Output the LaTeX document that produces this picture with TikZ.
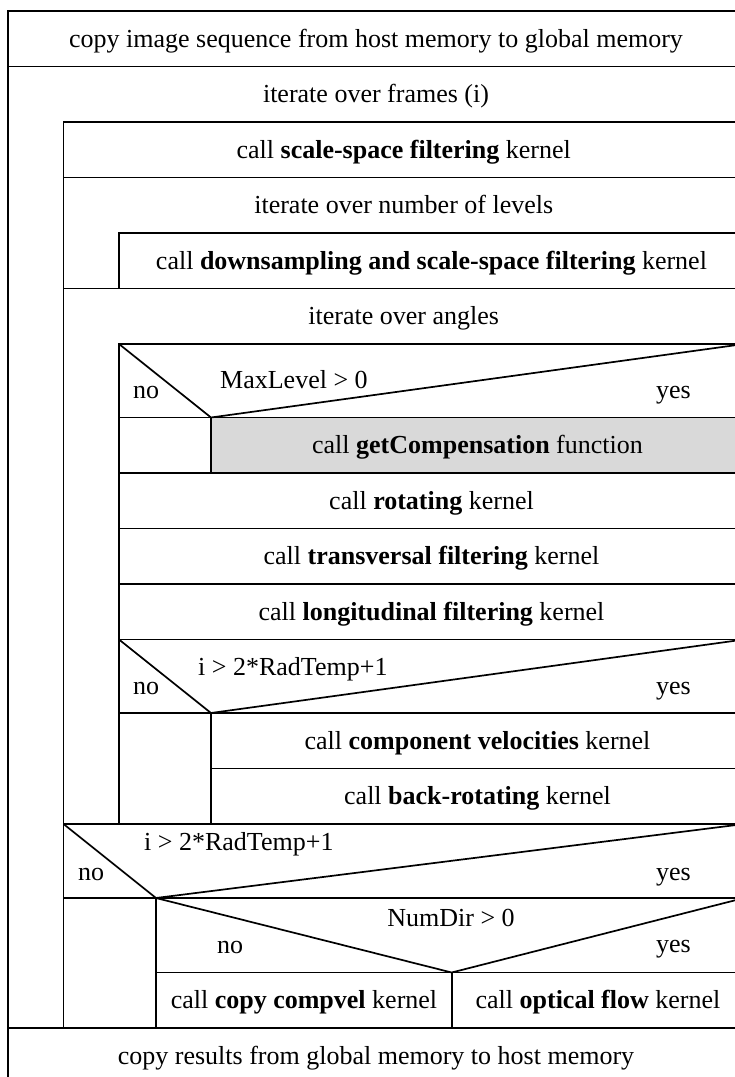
\documentclass[tikz,border=0pt]{standalone}
\usepackage{fontspec}
\setmainfont{Liberation Serif}
\definecolor{cellgrey}{RGB}{217,217,217}
\begin{document}
\begin{tikzpicture}[x=1pt,y=-1pt,
  frame/.style={line width=1.7pt, line join=miter},
  lbl/.style={anchor=base, inner sep=0pt, font=\fontsize{26}{30}\selectfont},
  leftlbl/.style={lbl, anchor=base west},
  yeslbl/.style={lbl, anchor=base east}]
\useasboundingbox (0,0) rectangle (735,1077);
\clip (0,0) rectangle (735,1077);

% highlighted cell
\fill[cellgrey] (211,417.5) rectangle (744,473);

% outer frame and sequence rows
\draw[frame] (8,1090) -- (8,11) -- (744,11) -- (744,1090);
\draw[frame] (8,66.5) -- (744,66.5);
\draw[frame] (8,1028) -- (744,1028);

% loop over frames
\draw[frame] (63.5,1028) -- (63.5,122) -- (744,122);
\draw[frame] (63.5,177.5) -- (744,177.5);

% loop over levels
\draw[frame] (119,288.5) -- (119,233) -- (744,233);
\draw[frame] (63.5,288.5) -- (744,288.5);

% loop over angles
\draw[frame] (119,824) -- (119,344) -- (744,344);
\coordinate (v1) at (211,417.5);
\draw[frame] (119,344) -- (v1) -- (744,344);
\draw[frame] (119,417.5) -- (744,417.5);
\draw[frame] (v1) -- (211,473);
\foreach \yy in {473,528.5,584,639.5} \draw[frame] (119,\yy) -- (744,\yy);
\coordinate (v2) at (211,713);
\draw[frame] (119,639.5) -- (v2) -- (744,639.5);
\draw[frame] (119,713) -- (744,713);
\draw[frame] (v2) -- (211,824);
\draw[frame] (211,768.5) -- (744,768.5);

% final condition
\draw[frame] (63.5,824) -- (744,824);
\coordinate (v3) at (156,898);
\draw[frame] (63.5,824) -- (v3) -- (744,824);
\draw[frame] (63.5,898) -- (744,898);
\draw[frame] (v3) -- (156,1028);
\coordinate (v4) at (451.7,972.5);
\draw[frame] (v3) -- (v4) -- (744,898);
\draw[frame] (156,972.5) -- (744,972.5);
\draw[frame] (v4) -- (451.7,1028);

% texts
\node[lbl] (t1) at (376,47.3) {copy image sequence from host memory to global memory};
\node[lbl] (t2) at (376,102.8) {iterate over frames (i)};
\node[lbl] (t3) at (403.75,158.3) {call \textbf{scale-space filtering} kernel};
\node[lbl] (t4) at (403.75,213.8) {iterate over number of levels};
\node[lbl] (t5) at (431.5,269.3) {call \textbf{downsampling and scale-space filtering} kernel};
\node[lbl] (t6) at (403.75,324.8) {iterate over angles};

\node[leftlbl] (c1) at (220,388) {MaxLevel > 0};
\node[leftlbl] (n1) at (133,398) {no};
\node[yeslbl] (y1) at (691,398) {yes};
\node[lbl] (t7) at (477.5,453.8) {call \textbf{getCompensation} function};
\node[lbl] (t8) at (431.5,509.3) {call \textbf{rotating} kernel};
\node[lbl] (t9) at (431.5,564.8) {call \textbf{transversal filtering} kernel};
\node[lbl] (t10) at (431.5,620.3) {call \textbf{longitudinal filtering} kernel};

\node[leftlbl] (c2) at (198,675) {i > 2*RadTemp+1};
\node[leftlbl] (n2) at (133,694) {no};
\node[yeslbl] (y2) at (691,694) {yes};
\node[lbl] (t11) at (477.5,749.3) {call \textbf{component velocities} kernel};
\node[lbl] (t12) at (477.5,804.8) {call \textbf{back-rotating} kernel};

\node[leftlbl] (c3) at (144,850) {i > 2*RadTemp+1};
\node[leftlbl] (n3) at (78,880) {no};
\node[yeslbl] (y3) at (691,880) {yes};

\node[lbl] (c4) at (451,926) {NumDir > 0};
\node[leftlbl] (n4) at (217,953) {no};
\node[yeslbl] (y4) at (691,952) {yes};
\node[lbl] (t13) at (304,1008.8) {call \textbf{copy compvel} kernel};
\node[lbl] (t14) at (598,1008.8) {call \textbf{optical flow} kernel};

\node[lbl] (t15) at (376,1064.3) {copy results from global memory to host memory};
\end{tikzpicture}
\end{document}
